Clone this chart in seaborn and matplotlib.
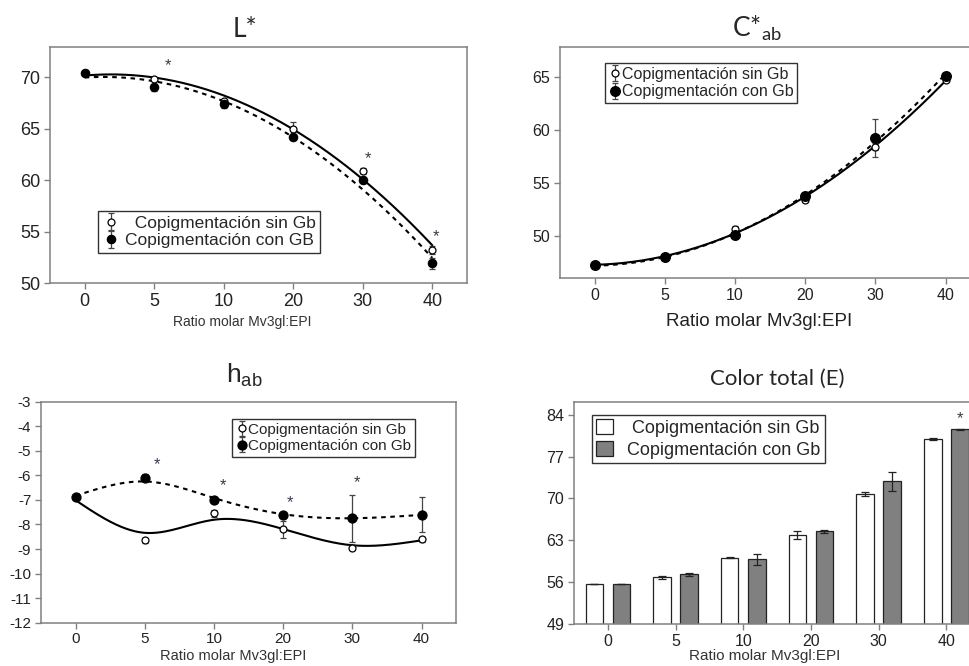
import numpy as np
import pandas as pd
import matplotlib
matplotlib.use("Agg")
import matplotlib.pyplot as plt
import seaborn as sns

# ---- data -------------------------------------------------------------
ratios = ["0", "5", "10", "20", "30", "40"]
groups = ["Copigmentación sin Gb", "Copigmentación con Gb"]

L_sin = [70.4, 69.8, 67.7, 65.0, 60.9, 53.2]
L_sin_err = [0.1, 0.2, 0.2, 0.6, 0.3, 0.4]
L_con = [70.4, 69.0, 67.4, 64.2, 60.0, 51.9]
L_con_err = [0.1, 0.3, 0.4, 0.3, 0.3, 0.5]

C_sin = [47.2, 48.0, 50.6, 53.4, 58.4, 64.7]
C_sin_err = [0.1, 0.1, 0.3, 0.2, 0.3, 0.2]
C_con = [47.2, 48.0, 50.1, 53.7, 59.2, 65.1]
C_con_err = [0.1, 0.1, 0.3, 0.2, 1.8, 0.2]

h_sin = [-6.9, -8.65, -7.55, -8.2, -8.95, -8.6]
h_sin_err = [0.05, 0.1, 0.15, 0.35, 0.1, 0.1]
h_con = [-6.9, -6.1, -7.0, -7.6, -7.75, -7.6]
h_con_err = [0.05, 0.15, 0.1, 0.1, 0.95, 0.7]

E_sin = [55.7, 56.8, 60.1, 63.9, 70.7, 80.0]
E_sin_err = [0.0, 0.3, 0.1, 0.6, 0.35, 0.15]
E_con = [55.7, 57.3, 59.8, 64.5, 72.9, 81.6]
E_con_err = [0.05, 0.2, 0.85, 0.2, 1.6, 0.1]

# significance marks (category position, height)
L_star_x = [1.2, 4.07, 5.05]
L_star_y = [71.1, 62.1, 54.5]
h_star_x = [1.18, 2.13, 3.1, 4.06]
h_star_y = [-5.55, -6.4, -7.1, -6.3]
E_star_x = [5.2]
E_star_y = [83.3]

# ---- style ------------------------------------------------------------
sns.set_theme(style="white")
plt.rcParams["font.family"] = ["Liberation Sans", "DejaVu Sans"]
plt.rcParams["axes.unicode_minus"] = False
plt.rcParams["axes.edgecolor"] = "#808080"
plt.rcParams["axes.linewidth"] = 1.1
plt.rcParams["xtick.color"] = "#808080"
plt.rcParams["ytick.color"] = "#808080"
plt.rcParams["xtick.labelcolor"] = "#222222"
plt.rcParams["ytick.labelcolor"] = "#222222"

TITLE_FONT = ["Lato", "DejaVu Sans"]
STAR_COLOR = "#3a3a4a"

idx = np.arange(len(ratios), dtype=float)
grid = np.linspace(0, len(ratios) - 1, 300)

fig = plt.figure(figsize=(9.7, 6.66), dpi=100)
fig.patch.set_facecolor("white")


def smoothing_spline(x, y, lam, xs):
    """Cubic smoothing spline (Reinsch form) evaluated at xs."""
    y = np.asarray(y, dtype=float)
    n = len(x)
    h = np.diff(x)
    Q = np.zeros((n, n - 2))
    R = np.zeros((n - 2, n - 2))
    for j in range(1, n - 1):
        Q[j - 1, j - 1] = 1 / h[j - 1]
        Q[j, j - 1] = -1 / h[j - 1] - 1 / h[j]
        Q[j + 1, j - 1] = 1 / h[j]
        R[j - 1, j - 1] = (h[j - 1] + h[j]) / 3
        if j < n - 2:
            R[j - 1, j] = R[j, j - 1] = h[j] / 6
    K = Q @ np.linalg.solve(R, Q.T)
    g = np.linalg.solve(np.eye(n) + lam * K, y)
    M = np.concatenate([[0.0], np.linalg.solve(R, Q.T @ g), [0.0]])
    i = np.clip(np.searchsorted(x, xs) - 1, 0, n - 2)
    t0, t1 = x[i], x[i + 1]
    hh = t1 - t0
    a = (t1 - xs) / hh
    b = (xs - t0) / hh
    return a * g[i] + b * g[i + 1] + ((a ** 3 - a) * M[i] + (b ** 3 - b) * M[i + 1]) * hh ** 2 / 6


def frame(ax, tick_size):
    for s in ax.spines.values():
        s.set_visible(True)
        s.set_color("#808080")
    ax.tick_params(axis="both", which="major", direction="out", length=4,
                   width=1, bottom=True, left=True, top=False, right=False,
                   labelsize=tick_size, pad=3)
    ax.grid(False)


def curve(ax, yfit, style):
    sns.lineplot(x=grid, y=yfit, ax=ax, color="black", lw=1.5,
                 linestyle=style, zorder=2)


def poly_curve(ax, values, deg, style):
    curve(ax, np.polyval(np.polyfit(idx, values, deg), grid), style)


def points(ax, values, err, filled, label, ms):
    ax.errorbar(idx, values, yerr=err, fmt="o", ms=ms,
                mfc="black" if filled else "white", mec="black", mew=0.9,
                ecolor="#444444", elinewidth=0.9, capsize=2.5, capthick=0.9,
                label=label, zorder=4)


def legend(ax, anchor, size, labels, **kw):
    handles, _ = ax.get_legend_handles_labels()
    leg = ax.legend(handles[:2], labels, loc="upper left",
                    bbox_to_anchor=anchor, borderaxespad=0, fontsize=size,
                    frameon=True, fancybox=False, framealpha=1,
                    edgecolor="#333333", borderpad=0.25, labelspacing=0.15,
                    **kw)
    leg.get_frame().set_linewidth(1.0)
    return leg


DASH = (0, (2.2, 2.2))

# ---- L* ---------------------------------------------------------------
ax1 = fig.add_axes([0.0515, 0.575, 0.430, 0.354])
poly_curve(ax1, L_sin, 2, "-")
poly_curve(ax1, L_con, 2, DASH)
points(ax1, L_sin, L_sin_err, False, "Copigmentación sin Gb", 5)
points(ax1, L_con, L_con_err, True, "Copigmentación con GB", 6)
for x, y in zip(L_star_x, L_star_y):
    ax1.text(x, y, "*", ha="center", va="center", fontsize=12, color=STAR_COLOR)
ax1.set_xlim(-0.5, 5.5)
ax1.set_ylim(50, 72.9)
ax1.set_yticks([50, 55, 60, 65, 70])
ax1.set_xticks(idx, ratios)
frame(ax1, 13)
ax1.set_title("L*", fontsize=19, family=TITLE_FONT, x=0.468, y=1.042,
              pad=0, va="baseline")
ax1.set_xlabel("Ratio molar Mv3gl:EPI", fontsize=10, color="#333333")
ax1.xaxis.set_label_coords(0.46, -0.135)
ax1.set_ylabel("")
legend(ax1, (0.115, 0.305), 12.5,
       ["  Copigmentación sin Gb", "Copigmentación con GB"],
       handlelength=1.0, handletextpad=0.3)

# ---- C*ab -------------------------------------------------------------
ax2 = fig.add_axes([0.577, 0.5826, 0.434, 0.347])
poly_curve(ax2, C_sin, 2, "-")
poly_curve(ax2, C_con, 2, DASH)
points(ax2, C_sin, C_sin_err, False, groups[0], 5)
points(ax2, C_con, C_con_err, True, groups[1], 7)
ax2.set_xlim(-0.5, 5.5)
ax2.set_ylim(46.0, 67.8)
ax2.set_yticks([50, 55, 60, 65])
ax2.set_xticks(idx, ratios)
frame(ax2, 11.5)
ax2.set_title(r"C*$_{\mathregular{ab}}$", fontsize=19, family=TITLE_FONT,
              x=0.468, y=1.043, pad=0, va="baseline")
ax2.set_xlabel("Ratio molar Mv3gl:EPI", fontsize=13.5, color="#222222")
ax2.xaxis.set_label_coords(0.473, -0.15)
ax2.set_ylabel("")
legend(ax2, (0.107, 0.931), 11.5, groups, handlelength=0.8,
       handletextpad=0.0)

# ---- h_ab -------------------------------------------------------------
ax3 = fig.add_axes([0.0423, 0.065, 0.428, 0.332])
curve(ax3, smoothing_spline(idx, h_sin, 0.035, grid), "-")
curve(ax3, smoothing_spline(idx, h_con, 0.035, grid), DASH)
points(ax3, h_sin, h_sin_err, False, groups[0], 5)
points(ax3, h_con, h_con_err, True, groups[1], 6.5)
for x, y in zip(h_star_x, h_star_y):
    ax3.text(x, y, "*", ha="center", va="center", fontsize=12, color=STAR_COLOR)
ax3.set_xlim(-0.5, 5.5)
ax3.set_ylim(-12, -3)
ax3.set_yticks(np.arange(-12, -2, 1))
ax3.set_xticks(idx, ratios)
frame(ax3, 11)
ax3.set_title(r"h$_{\mathregular{ab}}$", fontsize=19, x=0.49, y=1.085, pad=0,
              va="baseline")
ax3.set_xlabel("Ratio molar Mv3gl:EPI", fontsize=10.5, color="#333333")
ax3.xaxis.set_label_coords(0.463, -0.118)
ax3.set_ylabel("")
legend(ax3, (0.46, 0.922), 11, groups, handlelength=0.8, handletextpad=0.0)

# ---- Color total (E) --------------------------------------------------
ax4 = fig.add_axes([0.5918, 0.063, 0.4186, 0.334])
dfE = pd.DataFrame({
    "ratio": ratios * 2,
    "E": E_sin + E_con,
    "grupo": [groups[0]] * len(ratios) + [groups[1]] * len(ratios),
})
sns.barplot(data=dfE, x="ratio", y="E", hue="grupo", order=ratios,
            hue_order=groups, palette=["white", "#808080"], edgecolor="#222222",
            linewidth=0.9, width=0.8, gap=0.35, errorbar=None, ax=ax4,
            legend=False, zorder=2)
for cont, err in zip(ax4.containers, [E_sin_err, E_con_err]):
    xs = [b.get_x() + b.get_width() / 2 for b in cont]
    ys = [b.get_height() for b in cont]
    ax4.errorbar(xs, ys, yerr=err, fmt="none", ecolor="#222222",
                 elinewidth=0.9, capsize=3, capthick=0.9, zorder=3)
for x, y in zip(E_star_x, E_star_y):
    ax4.text(x, y, "*", ha="center", va="center", fontsize=12, color=STAR_COLOR)
ax4.set_xlim(-0.5, 5.5)
ax4.set_ylim(49, 86.2)
ax4.set_yticks([49, 56, 63, 70, 77, 84])
frame(ax4, 11.5)
ax4.set_title("Color total (E)", fontsize=16, family=TITLE_FONT, x=0.5,
              y=1.075, pad=0, va="baseline")
ax4.set_xlabel("Ratio molar Mv3gl:EPI", fontsize=11, color="#333333")
ax4.xaxis.set_label_coords(0.47, -0.112)
ax4.set_ylabel("")
bar_handles = [ax4.containers[0][0], ax4.containers[1][0]]
leg4 = ax4.legend(bar_handles, [" Copigmentación sin Gb", groups[1]],
                  loc="upper left", bbox_to_anchor=(0.044, 0.94),
                  borderaxespad=0, fontsize=13, frameon=True, fancybox=False,
                  framealpha=1, edgecolor="#333333", borderpad=0.25,
                  labelspacing=0.2, handlelength=0.9, handleheight=0.9,
                  handletextpad=0.8)
leg4.get_frame().set_linewidth(1.0)

fig.savefig("out.png", dpi=100, facecolor="white")
